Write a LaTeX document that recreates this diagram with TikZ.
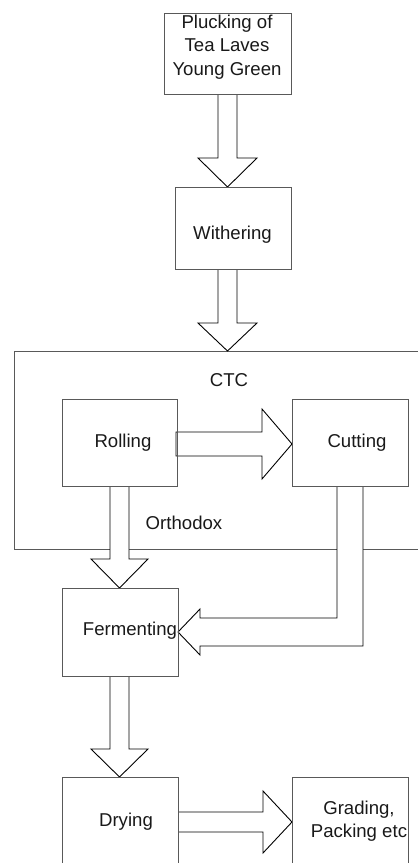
\documentclass[tikz,border=0pt]{standalone}
\usepackage{fontspec}
\setmainfont{Liberation Sans}
\begin{document}
\begin{tikzpicture}[x=1pt,y=-1pt,
  box/.style={draw=black!65, line width=1pt, rectangle, inner sep=0pt},
  blk/.style={draw=black, fill=white, line width=0.9pt, line join=miter},
  lbl/.style={font=\fontsize{18.6}{23.5}\selectfont, text=black!90, align=center, inner sep=0pt}]
\useasboundingbox (0,0) rectangle (418,863);
\clip (0,0) rectangle (418,863);
% outer CTC frame
\node[box, minimum width=426pt, minimum height=198pt] (ctc) at (227,450) {};
% block arrows
\filldraw[blk] (218,94) -- (218,158) -- (198,158) -- (227.5,187) -- (257,158) -- (237,158) -- (237,94);
\filldraw[blk] (218,269) -- (218,323) -- (198,323) -- (227.5,351) -- (257,323) -- (237,323) -- (237,269);
\filldraw[blk] (176,432) -- (262,432) -- (262,409) -- (292,444) -- (262,479) -- (262,456) -- (176,456) -- cycle;
\filldraw[blk] (110,486) -- (110,559) -- (91,559) -- (119.5,588) -- (148,559) -- (129,559) -- (129,486);
\filldraw[blk] (337,486) -- (337,618) -- (200,618) -- (200,609) -- (178,632) -- (200,655) -- (200,646) -- (363,646) -- (363,486);
\filldraw[blk] (110,676) -- (110,749) -- (91,749) -- (119.5,777) -- (148,749) -- (129,749) -- (129,676);
\filldraw[blk] (178,812) -- (263,812) -- (263,791) -- (292,822) -- (263,853) -- (263,832) -- (178,832);
% boxes
\node[box, minimum width=127pt, minimum height=81pt] (pluck) at (227.5,53.5) {};
\node[box, minimum width=116pt, minimum height=82pt] (wither) at (233,228) {};
\node[box, minimum width=115pt, minimum height=87pt] (roll) at (119.5,442.5) {};
\node[box, minimum width=116pt, minimum height=87pt] (cut) at (350,442.5) {};
\node[box, minimum width=116pt, minimum height=88pt] (ferm) at (120,632) {};
\node[box, minimum width=116pt, minimum height=123pt] (dry) at (120,838.5) {};
\node[box, minimum width=116pt, minimum height=123pt] (grade) at (350,838.5) {};
% labels
\node[lbl] (tpluck) at (227,47) {Plucking of\\Tea Laves\\Young Green};
\node[lbl] (twither) at (232.5,235) {Withering};
\node[lbl] (tctc) at (229,380) {CTC};
\node[lbl] (troll) at (123,443) {Rolling};
\node[lbl] (tcut) at (357,443) {Cutting};
\node[lbl] (torth) at (184,523) {Orthodox};
\node[lbl] (tferm) at (130,631) {Fermenting};
\node[lbl] (tdry) at (126,822) {Drying};
\node[lbl] (tgrade) at (359,821) {Grading,\\Packing etc};
\end{tikzpicture}
\end{document}
